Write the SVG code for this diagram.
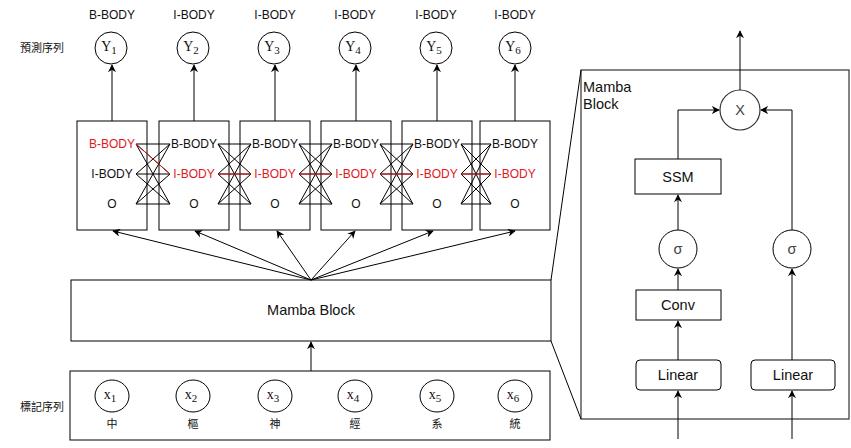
<svg xmlns="http://www.w3.org/2000/svg" width="851" height="448" viewBox="0 0 851 448">
<defs>
<marker id="ah" viewBox="0 0 10 10" refX="9" refY="5" markerWidth="8" markerHeight="8" markerUnits="userSpaceOnUse" orient="auto">
<path d="M0,0 L10,5 L0,10 L3,5 Z" fill="#000"/>
</marker>
<style>
text{font-family:"Liberation Sans",Arial,sans-serif;font-size:12px;fill:#111;text-anchor:middle;dominant-baseline:central}
text.mono{font-family:"Liberation Serif","Courier New",serif;font-size:14px}
tspan.sub{font-size:11px}
text.cjk{font-family:"Noto Sans CJK TC","Noto Sans CJK SC",sans-serif;font-size:11px}
text.big{font-size:14.5px}
.red{fill:#e0191c}
.box{fill:#fff;stroke:#000;stroke-width:1}
.ln{fill:none;stroke:#000;stroke-width:1}
.rl{fill:none;stroke:#e0191c;stroke-width:1}
.arr{fill:none;stroke:#000;stroke-width:1;marker-end:url(#ah)}
.gl{fill:none;stroke:#333;stroke-width:1.2}
</style>
</defs>
<rect width="851" height="448" fill="#fff"/>

<text x="42" y="47" class="cjk">預測序列</text>
<text x="42" y="406" class="cjk">標記序列</text>

<g id="labels">
<text x="112" y="15">B-BODY</text>
<text x="194" y="15">I-BODY</text>
<text x="275" y="15">I-BODY</text>
<text x="355" y="15">I-BODY</text>
<text x="436" y="15">I-BODY</text>
<text x="515" y="15">I-BODY</text>
</g>

<g id="y1"><circle cx="111" cy="48" r="16" class="box"/><text x="109" y="46" class="mono">Y<tspan class="sub" dy="4">1</tspan></text></g>
<g id="y2"><circle cx="193" cy="48" r="16" class="box"/><text x="191" y="46" class="mono">Y<tspan class="sub" dy="4">2</tspan></text></g>
<g id="y3"><circle cx="274" cy="48" r="16" class="box"/><text x="272" y="46" class="mono">Y<tspan class="sub" dy="4">3</tspan></text></g>
<g id="y4"><circle cx="355" cy="48" r="16" class="box"/><text x="353" y="46" class="mono">Y<tspan class="sub" dy="4">4</tspan></text></g>
<g id="y5"><circle cx="436" cy="48" r="16" class="box"/><text x="434" y="46" class="mono">Y<tspan class="sub" dy="4">5</tspan></text></g>
<g id="y6"><circle cx="515" cy="48" r="16" class="box"/><text x="513" y="46" class="mono">Y<tspan class="sub" dy="4">6</tspan></text></g>

<g id="c1"><rect x="77" y="121" width="70" height="109" class="box"/>
<text x="112" y="144" class="red">B-BODY</text><text x="112" y="174">I-BODY</text><text x="112" y="204">O</text></g>
<g id="c2"><rect x="159" y="121" width="70" height="109" class="box"/>
<text x="194" y="144">B-BODY</text><text x="194" y="174" class="red">I-BODY</text><text x="194" y="204">O</text></g>
<g id="c3"><rect x="240" y="121" width="70" height="109" class="box"/>
<text x="275" y="144">B-BODY</text><text x="275" y="174" class="red">I-BODY</text><text x="275" y="204">O</text></g>
<g id="c4"><rect x="321" y="121" width="70" height="109" class="box"/>
<text x="356" y="144">B-BODY</text><text x="356" y="174" class="red">I-BODY</text><text x="356" y="204">O</text></g>
<g id="c5"><rect x="402" y="121" width="70" height="109" class="box"/>
<text x="437" y="144">B-BODY</text><text x="437" y="174" class="red">I-BODY</text><text x="437" y="204">O</text></g>
<g id="c6"><rect x="480" y="121" width="70" height="109" class="box"/>
<text x="515" y="144">B-BODY</text><text x="515" y="174" class="red">I-BODY</text><text x="515" y="204">O</text></g>

<g id="mamba"><rect x="71" y="280" width="480" height="61" class="box"/><text x="311" y="310" class="big">Mamba Block</text></g>

<g id="input"><rect x="70" y="371" width="480" height="69" class="box"/>
<g id="x1"><ellipse cx="112" cy="396" rx="17" ry="16" class="box"/><text x="110" y="394" class="mono">x<tspan class="sub" dy="4">1</tspan></text><text x="112" y="423" class="cjk">中</text></g>
<g id="x2"><ellipse cx="193" cy="396" rx="17" ry="16" class="box"/><text x="191" y="394" class="mono">x<tspan class="sub" dy="4">2</tspan></text><text x="193" y="423" class="cjk">樞</text></g>
<g id="x3"><ellipse cx="275" cy="396" rx="17" ry="16" class="box"/><text x="273" y="394" class="mono">x<tspan class="sub" dy="4">3</tspan></text><text x="275" y="423" class="cjk">神</text></g>
<g id="x4"><ellipse cx="355" cy="396" rx="17" ry="16" class="box"/><text x="353" y="394" class="mono">x<tspan class="sub" dy="4">4</tspan></text><text x="355" y="423" class="cjk">經</text></g>
<g id="x5"><ellipse cx="437" cy="396" rx="17" ry="16" class="box"/><text x="435" y="394" class="mono">x<tspan class="sub" dy="4">5</tspan></text><text x="437" y="423" class="cjk">系</text></g>
<g id="x6"><ellipse cx="515" cy="396" rx="17" ry="16" class="box"/><text x="513" y="394" class="mono">x<tspan class="sub" dy="4">6</tspan></text><text x="515" y="423" class="cjk">統</text></g>
</g>

<g id="detail">
<rect x="581" y="70" width="268" height="349" fill="#fff" class="gl"/>
<text x="583" y="87" class="big" style="text-anchor:start">Mamba</text>
<text x="583" y="104" class="big" style="text-anchor:start">Block</text>
<g id="mul"><circle cx="740" cy="110" r="20" fill="#fff" stroke="#333" stroke-width="1.2"/><text x="740" y="110" class="big" style="fill:#444">X</text></g>
<g id="ssm"><rect x="635" y="159" width="86" height="35" fill="#fff" stroke="#000"/><text x="678" y="177" class="big">SSM</text></g>
<g id="sig1"><circle cx="678" cy="249" r="19" fill="#fff" stroke="#000"/><text x="678" y="249" class="big" style="fill:#444">σ</text></g>
<g id="sig2"><circle cx="792" cy="249" r="19" fill="#fff" stroke="#000"/><text x="792" y="249" class="big" style="fill:#444">σ</text></g>
<g id="conv"><rect x="636" y="290" width="85" height="30" fill="#fff" stroke="#000"/><text x="678" y="305" class="big">Conv</text></g>
<g id="lin1"><rect x="636" y="360" width="85" height="30" rx="4" fill="#fff" stroke="#000"/><text x="678" y="375" class="big">Linear</text></g>
<g id="lin2"><rect x="751" y="360" width="84" height="30" rx="4" fill="#fff" stroke="#000"/><text x="793" y="375" class="big">Linear</text></g>
</g>

<g id="connectors">
<line x1="112" y1="121" x2="112" y2="65" class="arr"/>
<line x1="194" y1="121" x2="194" y2="65" class="arr"/>
<line x1="275" y1="121" x2="275" y2="65" class="arr"/>
<line x1="356" y1="121" x2="356" y2="65" class="arr"/>
<line x1="437" y1="121" x2="437" y2="65" class="arr"/>
<line x1="515" y1="121" x2="515" y2="65" class="arr"/>

<g class="ln">
<path d="M136,144L170,144M136,144L170,174M136,144L170,204M136,174L170,144M136,174L170,174M136,174L170,204M136,204L170,144M136,204L170,174M136,204L170,204"/>
<path d="M218,144L251,144M218,144L251,174M218,144L251,204M218,174L251,144M218,174L251,174M218,174L251,204M218,204L251,144M218,204L251,174M218,204L251,204"/>
<path d="M299,144L332,144M299,144L332,174M299,144L332,204M299,174L332,144M299,174L332,174M299,174L332,204M299,204L332,144M299,204L332,174M299,204L332,204"/>
<path d="M380,144L413,144M380,144L413,174M380,144L413,204M380,174L413,144M380,174L413,174M380,174L413,204M380,204L413,144M380,204L413,174M380,204L413,204"/>
<path d="M461,144L491,144M461,144L491,174M461,144L491,204M461,174L491,144M461,174L491,174M461,174L491,204M461,204L491,144M461,204L491,174M461,204L491,204"/>
</g>
<path class="rl" d="M136,144L170,174M218,174L251,174M299,174L332,174M380,174L413,174M461,174L491,174"/>

<line x1="311" y1="280" x2="113" y2="231" class="arr"/>
<line x1="311" y1="280" x2="195" y2="231" class="arr"/>
<line x1="311" y1="280" x2="277" y2="231" class="arr"/>
<line x1="311" y1="280" x2="355" y2="231" class="arr"/>
<line x1="311" y1="280" x2="433" y2="231" class="arr"/>
<line x1="311" y1="280" x2="515" y2="231" class="arr"/>

<line x1="311" y1="371" x2="311" y2="342" class="arr"/>

<line x1="551" y1="280" x2="581" y2="70" class="ln"/>
<line x1="551" y1="341" x2="581" y2="419" class="ln"/>

<line x1="740" y1="90" x2="740" y2="31" class="arr"/>
<path d="M678,159V110H719" class="arr"/>
<path d="M792,230V110H761" class="arr"/>
<line x1="678" y1="230" x2="678" y2="195" class="arr"/>
<line x1="678" y1="290" x2="678" y2="269" class="arr"/>
<line x1="678" y1="360" x2="678" y2="321" class="arr"/>
<line x1="792" y1="360" x2="792" y2="269" class="arr"/>
<line x1="678" y1="439" x2="678" y2="391" class="arr"/>
<line x1="792" y1="439" x2="792" y2="391" class="arr"/>
</g>
</svg>
